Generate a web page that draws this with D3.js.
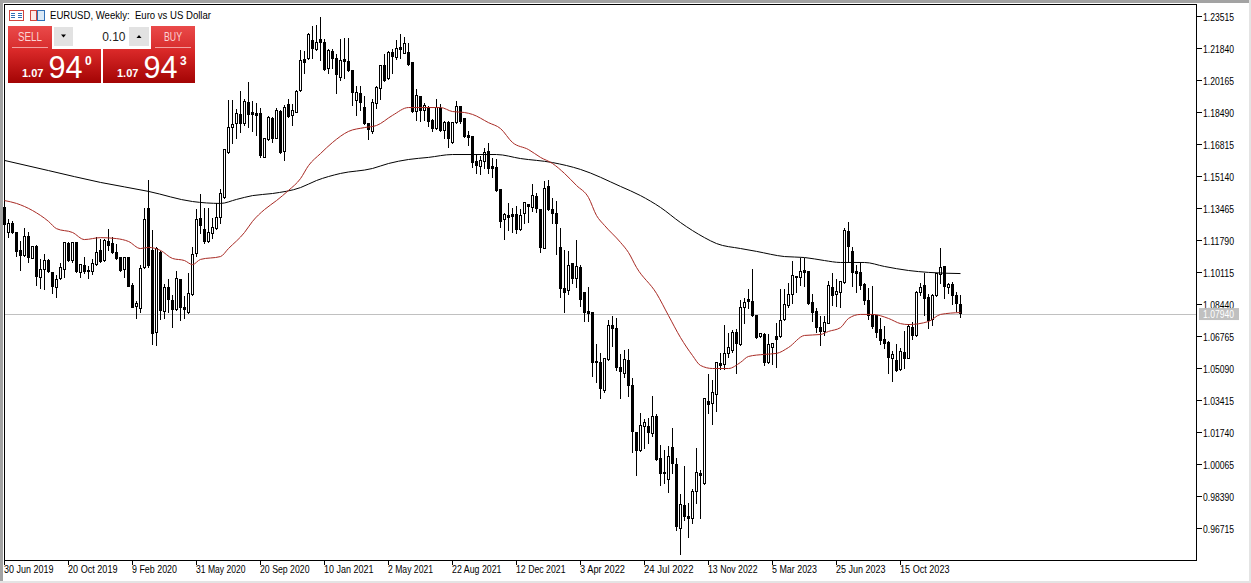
<!DOCTYPE html>
<html>
<head>
<meta charset="utf-8">
<script src="https://cdn.jsdelivr.net/npm/d3@7/dist/d3.min.js"></script>
<style>
html,body{margin:0;padding:0;background:#fff;overflow:hidden}
svg{display:block}
text{font-family:"Liberation Sans",Arial,sans-serif}
</style>
</head>
<body>
<script>
const title = "EURUSD, Weekly:  Euro vs US Dollar";
const xTickLabels = ["30 Jun 2019","20 Oct 2019","9 Feb 2020","31 May 2020","20 Sep 2020","10 Jan 2021","2 May 2021","22 Aug 2021","12 Dec 2021","3 Apr 2022","24 Jul 2022","13 Nov 2022","5 Mar 2023","25 Jun 2023","15 Oct 2023"];
const yTicks = [1.23515,1.21840,1.20165,1.18490,1.16815,1.15140,1.13465,1.11790,1.10115,1.08440,1.06765,1.05090,1.03415,1.01740,1.00065,0.98390,0.96715];
const lastPrice = 1.07940;

const opens = [
1.1352,1.1221,1.1268,1.1221,1.1127,1.1101,1.1200,1.1085,1.1148,1.0985,
1.1027,1.1074,1.1012,1.0933,1.0980,1.1027,1.1163,1.1074,1.1169,1.1012,
1.1048,1.1022,1.1017,1.1053,1.1127,1.1074,1.1174,1.1163,1.1116,1.1090,
1.1027,1.1090,1.0944,1.0834,1.0823,1.1038,1.1346,1.1127,1.0697,1.1116,
1.0808,1.0933,1.0865,1.0818,1.0975,1.0829,1.0802,1.0897,1.1111,1.1294,
1.1236,1.1174,1.1215,1.1241,1.1299,1.1404,1.1640,1.1770,1.1791,1.1839,
1.1791,1.1902,1.1849,1.1844,1.1844,1.1614,1.1707,1.1818,1.1713,1.1854,
1.1645,1.1891,1.1834,1.1849,1.1964,1.2126,1.2132,1.2226,1.2179,1.2231,
1.2216,1.2080,1.2168,1.2132,1.2032,1.2126,1.2116,1.2069,1.1912,1.1949,
1.1875,1.1791,1.1750,1.1896,1.1975,1.2095,1.2027,1.2163,1.2137,1.2189,
1.2158,1.2163,1.2110,1.1854,1.1933,1.1859,1.1875,1.1807,1.1765,1.1870,
1.1755,1.1796,1.1692,1.1796,1.1881,1.1818,1.1729,1.1723,1.1593,1.1566,
1.1593,1.1645,1.1566,1.1561,1.1446,1.1289,1.1310,1.1315,1.1315,1.1236,
1.1320,1.1368,1.1352,1.1409,1.1341,1.1137,1.1461,1.1341,1.1320,1.1143,
1.0928,1.0917,1.1058,1.0980,1.1038,1.0907,1.0808,1.0802,1.0546,1.0541,
1.0394,1.0557,1.0734,1.0718,1.0515,1.0483,1.0551,1.0420,1.0175,1.0080,
1.0206,1.0206,1.0169,1.0258,1.0038,0.9965,0.9928,1.0095,1.0007,0.9671,
0.9792,0.9734,0.9724,0.9865,0.9959,0.9907,1.0336,1.0326,1.0373,1.0536,
1.0530,1.0588,1.0603,1.0697,1.0635,1.0829,1.0870,1.0860,1.0786,1.0676,
1.0687,1.0541,1.0619,1.0676,1.0676,1.0766,1.0839,1.0897,1.0991,1.0985,
1.1022,1.1017,1.0854,1.0808,1.0723,1.0703,1.0744,1.0933,1.0897,1.0907,
1.0960,1.1226,1.1122,1.1017,1.1012,1.0949,1.0865,1.0792,1.0786,1.0713,
1.0661,1.0645,1.0562,1.0551,1.0504,1.0593,1.0562,1.0723,1.0682,1.0907,
1.0944,1.0881,1.0766,1.0891,1.1001,1.1043,1.0933,1.0949,1.0891,1.0844];

const closes = [
1.1263,1.1268,1.1221,1.1122,1.1101,1.1200,1.1090,1.1148,1.0991,1.1027,
1.1074,1.1017,1.0939,1.0975,1.1038,1.1169,1.1074,1.1169,1.1017,1.1053,
1.1017,1.1017,1.1058,1.1116,1.1069,1.1179,1.1153,1.1116,1.1085,1.1022,
1.1090,1.0939,1.0829,1.0849,1.1033,1.1289,1.1048,1.0692,1.1137,1.0813,
1.0933,1.0870,1.0818,1.0980,1.0829,1.0818,1.0902,1.1106,1.1289,1.1258,
1.1174,1.1221,1.1247,1.1299,1.1425,1.1655,1.1770,1.1786,1.1844,1.1791,
1.1907,1.1839,1.1839,1.1834,1.1624,1.1713,1.1823,1.1713,1.1859,1.1640,
1.1875,1.1828,1.1859,1.1959,1.2121,1.2110,1.2257,1.2184,1.2216,1.2216,
1.2074,1.2174,1.2132,1.2048,1.2121,1.2116,1.2069,1.1954,1.1954,1.1902,
1.1791,1.1760,1.1902,1.1980,1.2095,1.2017,1.2163,1.2142,1.2184,1.2179,
1.2210,1.2100,1.1854,1.1938,1.1859,1.1886,1.1802,1.1765,1.1875,1.1755,
1.1796,1.1713,1.1796,1.1881,1.1802,1.1723,1.1718,1.1587,1.1572,1.1598,
1.1640,1.1556,1.1556,1.1441,1.1279,1.1315,1.1299,1.1305,1.1236,1.1310,
1.1378,1.1357,1.1414,1.1346,1.1143,1.1451,1.1341,1.1320,1.1268,1.0928,
1.0907,1.1048,1.0980,1.1043,1.0870,1.0802,1.0797,1.0541,1.0541,1.0404,
1.0562,1.0734,1.0718,1.0515,1.0494,1.0557,1.0420,1.0180,1.0080,1.0211,
1.0226,1.0175,1.0258,1.0032,0.9959,0.9959,1.0049,1.0012,0.9682,0.9797,
0.9734,0.9724,0.9865,0.9965,0.9949,1.0352,1.0321,1.0384,1.0541,1.0525,
1.0588,1.0619,1.0697,1.0640,1.0829,1.0854,1.0860,1.0786,1.0671,1.0692,
1.0541,1.0635,1.0640,1.0661,1.0760,1.0844,1.0897,1.0996,1.0985,1.1017,
1.1012,1.0849,1.0802,1.0723,1.0703,1.0750,1.0944,1.0891,1.0912,1.0965,
1.1231,1.1148,1.1012,1.1006,1.0944,1.0865,1.0786,1.0729,1.0697,1.0656,
1.0640,1.0567,1.0583,1.0499,1.0598,1.0562,1.0729,1.0682,1.0907,1.0933,
1.0876,1.0760,1.0891,1.1006,1.1038,1.0939,1.0949,1.0891,1.0849,1.0797];

const highs = [
1.1362,1.1293,1.1284,1.1221,1.1179,1.1247,1.1226,1.1153,1.1158,1.1085,
1.1111,1.1085,1.1012,1.1001,1.1064,1.1174,1.1174,1.1174,1.1174,1.1058,
1.1095,1.1048,1.1085,1.1200,1.1189,1.1189,1.1241,1.1200,1.1163,1.1095,
1.1095,1.1095,1.0960,1.0865,1.1053,1.1352,1.1498,1.1236,1.1148,1.1127,
1.0954,1.0980,1.0897,1.1022,1.0980,1.0891,1.1012,1.1148,1.1346,1.1425,
1.1352,1.1352,1.1299,1.1378,1.1451,1.1655,1.1917,1.1917,1.1870,1.1964,
1.1922,1.2012,1.1912,1.1902,1.1875,1.1718,1.1834,1.1828,1.1875,1.1865,
1.1891,1.1922,1.1896,1.1969,1.2179,1.2174,1.2268,1.2304,1.2309,1.2351,
1.2236,1.2184,1.2184,1.2158,1.2236,1.2241,1.2241,1.2069,1.1990,1.1990,
1.1938,1.1796,1.1922,1.1990,1.2100,1.2158,1.2174,1.2184,1.2231,1.2262,
1.2247,1.2216,1.2110,1.1975,1.1938,1.1902,1.1886,1.1818,1.1922,1.1896,
1.1807,1.1807,1.1802,1.1912,1.1886,1.1818,1.1755,1.1729,1.1634,1.1624,
1.1666,1.1692,1.1614,1.1608,1.1451,1.1326,1.1378,1.1352,1.1362,1.1346,
1.1383,1.1373,1.1477,1.1430,1.1346,1.1493,1.1498,1.1404,1.1388,1.1247,
1.1132,1.1127,1.1064,1.1184,1.1053,1.0907,1.0939,1.0808,1.0640,1.0593,
1.0567,1.0766,1.0786,1.0776,1.0588,1.0609,1.0614,1.0462,1.0180,1.0279,
1.0247,1.0253,1.0368,1.0274,1.0111,1.0085,1.0106,1.0200,1.0043,0.9855,
1.0001,0.9808,0.9881,1.0095,0.9980,1.0357,1.0483,1.0451,1.0541,1.0593,
1.0739,1.0697,1.0713,1.0718,1.0870,1.0881,1.0928,1.1033,1.0792,1.0697,
1.0697,1.0692,1.0645,1.0750,1.0928,1.0928,1.0960,1.1074,1.0996,1.1090,
1.1090,1.1022,1.0902,1.0829,1.0786,1.0786,1.0970,1.1012,1.0980,1.0970,
1.1247,1.1279,1.1148,1.1053,1.1064,1.0960,1.0933,1.0944,1.0792,1.0776,
1.0734,1.0656,1.0603,1.0640,1.0619,1.0708,1.0744,1.0755,1.0917,1.0960,
1.1012,1.0902,1.0902,1.1012,1.1143,1.1048,1.0960,1.0965,1.0912,1.0897];

const lows = [
1.1194,1.1194,1.1215,1.1095,1.1022,1.1095,1.1064,1.1085,1.0944,1.0928,
1.0923,1.1012,1.0902,1.0881,1.0975,1.0985,1.1069,1.1064,1.1012,1.0985,
1.1006,1.0980,1.1001,1.1048,1.1064,1.1069,1.1127,1.1111,1.1080,1.1017,
1.0985,1.0939,1.0829,1.0771,1.0802,1.1033,1.1038,1.0635,1.0629,1.0766,
1.0771,1.0802,1.0723,1.0813,1.0760,1.0771,1.0797,1.0891,1.1095,1.1215,
1.1163,1.1169,1.1189,1.1236,1.1268,1.1399,1.1634,1.1686,1.1713,1.1744,
1.1781,1.1770,1.1750,1.1729,1.1614,1.1614,1.1702,1.1692,1.1713,1.1634,
1.1598,1.1823,1.1781,1.1849,1.1959,1.2053,1.2126,1.2132,1.2174,1.2121,
1.2069,1.2053,1.2080,1.1949,1.2017,1.2027,1.2064,1.1886,1.1834,1.1859,
1.1786,1.1707,1.1739,1.1870,1.1917,1.2012,1.2022,1.2053,1.2126,1.2132,
1.2158,1.2095,1.1849,1.1807,1.1802,1.1807,1.1776,1.1750,1.1760,1.1750,
1.1713,1.1666,1.1686,1.1791,1.1791,1.1718,1.1676,1.1561,1.1530,1.1525,
1.1556,1.1530,1.1509,1.1436,1.1247,1.1184,1.1231,1.1221,1.1215,1.1231,
1.1268,1.1273,1.1331,1.1326,1.1116,1.1137,1.1336,1.1268,1.1106,1.0881,
1.0802,1.0897,1.0954,1.0933,1.0834,1.0755,1.0755,1.0467,1.0436,1.0352,
1.0384,1.0551,1.0624,1.0499,1.0352,1.0462,1.0363,1.0070,0.9949,1.0075,
1.0090,1.0117,1.0154,1.0027,0.9896,0.9907,0.9860,0.9959,0.9661,0.9535,
0.9713,0.9624,0.9697,0.9802,0.9724,0.9902,1.0274,1.0216,1.0284,1.0504,
1.0504,1.0567,1.0593,1.0483,1.0629,1.0744,1.0823,1.0781,1.0666,1.0671,
1.0525,1.0536,1.0530,1.0515,1.0671,1.0760,1.0829,1.0849,1.0907,1.0944,
1.0939,1.0844,1.0755,1.0697,1.0629,1.0682,1.0744,1.0839,1.0834,1.0829,
1.0954,1.1064,1.0939,1.0907,1.0923,1.0844,1.0766,1.0718,1.0671,1.0635,
1.0614,1.0483,1.0441,1.0494,1.0499,1.0509,1.0562,1.0661,1.0676,1.0891,
1.0786,1.0718,1.0734,1.0886,1.0954,1.0876,1.0902,1.0844,1.0808,1.0776];

const redBars = [0,3,7,11,13,17,20,24,28,31,34,36,39,42,45,47,49,54,56,60,62,65,68,71,74,76,79,82,86,90,93,97,101,109,112,115,117,121,124,127,131,134,137,140,143,146,148,150,154,156,158,163,166,169,172,174,177,181,184,186,190,193,196,200,204,206,209,211,214,217,221,224,226,231,234,239];
const redValues = [1.1388,1.1373,1.1336,1.1279,1.1241,1.1221,1.1184,1.1194,1.1189,1.1174,1.1137,1.1143,1.1127,1.1085,1.1074,1.1053,1.1080,1.1095,1.1137,1.1221,1.1279,1.1341,1.1388,1.1441,1.1503,1.1571,1.1634,1.1692,1.1750,1.1770,1.1781,1.1834,1.1875,1.1875,1.1854,1.1849,1.1839,1.1796,1.1765,1.1692,1.1655,1.1614,1.1582,1.1530,1.1467,1.1404,1.1310,1.1258,1.1169,1.1116,1.1038,1.0902,1.0786,1.0671,1.0577,1.0525,1.0509,1.0509,1.0541,1.0572,1.0583,1.0588,1.0619,1.0682,1.0687,1.0703,1.0723,1.0771,1.0792,1.0792,1.0771,1.0744,1.0739,1.0755,1.0792,1.0802];
const blackBars = [0,11,24,36,47,54,58,62,67,74,78,84,92,96,101,106,112,123,129,137,144,154,159,164,169,172,175,178,184,188,195,200,205,209,215,220,226,231,239];
const blackValues = [1.1598,1.1545,1.1483,1.1436,1.1383,1.1373,1.1394,1.1414,1.1425,1.1456,1.1493,1.1530,1.1556,1.1582,1.1603,1.1614,1.1629,1.1629,1.1608,1.1587,1.1551,1.1462,1.1414,1.1352,1.1273,1.1231,1.1194,1.1163,1.1137,1.1122,1.1095,1.1090,1.1074,1.1064,1.1064,1.1043,1.1022,1.1012,1.1006];

const W = 1251, H = 583;
const L = 4.5, R = 1196.5, T = 4.5, B = 560.5;
const barStep = 4, labelEvery = 16;

const x = d3.scaleLinear().domain([0, 1]).range([L, L + barStep]);
const y = d3.scaleLinear().domain([0.96715, 1.23515]).range([528.5, 16.5]);

const svg = d3.select("body").append("svg").attr("width", W).attr("height", H);

// window chrome
svg.append("rect").attr("width", W).attr("height", H).attr("fill", "#fff");
svg.append("rect").attr("width", W).attr("height", 3).attr("fill", "#a3a3a3");
svg.append("rect").attr("y", 0).attr("width", 3).attr("height", H).attr("fill", "#a3a3a3");
svg.append("rect").attr("x", 1249).attr("width", 2).attr("height", H).attr("fill", "#e4e4e4");
svg.append("rect").attr("y", 581).attr("width", W).attr("height", 2).attr("fill", "#e4e4e4");

const bodyW = 2;
const crisp = svg.append("g").attr("shape-rendering", "crispEdges");

// last price line
crisp.append("line").attr("x1", L).attr("x2", R)
  .attr("y1", Math.round(y(lastPrice)) + .5).attr("y2", Math.round(y(lastPrice)) + .5)
  .attr("stroke", "#c0c0c0");

const bars = d3.range(opens.length);
const snap = v => Math.round(v - .5) + .5;

crisp.append("g").selectAll("line").data(bars).join("line")
  .attr("x1", i => x(i)).attr("x2", i => x(i))
  .attr("y1", i => snap(y(highs[i]))).attr("y2", i => snap(y(lows[i])))
  .attr("stroke", "#000");

crisp.append("g").selectAll("rect").data(bars).join("rect")
  .attr("x", i => x(i) - bodyW / 2).attr("width", bodyW)
  .attr("y", i => snap(y(Math.max(opens[i], closes[i]))))
  .attr("height", i => Math.max(1, snap(y(Math.min(opens[i], closes[i]))) - snap(y(Math.max(opens[i], closes[i])))))
  .attr("fill", i => closes[i] >= opens[i] ? "#fff" : "#000")
  .attr("stroke", "#000");

// moving averages
const maLine = d3.line().x(d => x(d[0])).y(d => y(d[1])).curve(d3.curveMonotoneX);
svg.append("path").attr("d", maLine(d3.zip(blackBars, blackValues)))
  .attr("fill", "none").attr("stroke", "#000").attr("stroke-width", 1);
svg.append("path").attr("d", maLine(d3.zip(redBars, redValues)))
  .attr("fill", "none").attr("stroke", "#a82a24").attr("stroke-width", 1);

// frame
crisp.append("rect").attr("x", L).attr("y", T).attr("width", R - L).attr("height", B - T)
  .attr("fill", "none").attr("stroke", "#000");

// y axis
const yG = svg.append("g");
yG.selectAll("line").data(yTicks).join("line")
  .attr("shape-rendering", "crispEdges")
  .attr("x1", R).attr("x2", R + 5).attr("y1", d => y(d)).attr("y2", d => y(d)).attr("stroke", "#000");
yG.selectAll("text").data(yTicks).join("text")
  .attr("x", 1203).attr("y", d => y(d) + 4)
  .attr("font-size", 11).attr("fill", "#000")
  .attr("textLength", 31).attr("lengthAdjust", "spacingAndGlyphs")
  .text(d => d.toFixed(5));

// current price tag
svg.append("rect").attr("x", 1199).attr("y", y(lastPrice) - 6).attr("width", 40).attr("height", 12).attr("fill", "#c0c0c0");
svg.append("text").attr("x", 1203).attr("y", y(lastPrice) + 4)
  .attr("font-size", 11).attr("fill", "#fff")
  .attr("textLength", 31).attr("lengthAdjust", "spacingAndGlyphs").text(lastPrice.toFixed(5));

// x axis
const xG = svg.append("g");
xG.selectAll("line").data(xTickLabels).join("line")
  .attr("shape-rendering", "crispEdges")
  .attr("x1", (d, i) => x(i * labelEvery)).attr("x2", (d, i) => x(i * labelEvery))
  .attr("y1", B).attr("y2", B + 4).attr("stroke", "#000");
xG.selectAll("text").data(xTickLabels).join("text")
  .attr("x", (d, i) => x(i * labelEvery) - .5).attr("y", 573)
  .attr("font-size", 10.5).attr("fill", "#000")
  .attr("textLength", d => d.length * 4.5)
  .attr("lengthAdjust", "spacingAndGlyphs")
  .text(d => d);

// title and icons
const icons = svg.append("g").attr("shape-rendering", "crispEdges");
icons.append("rect").attr("x", 9.5).attr("y", 10.5).attr("width", 14).attr("height", 10).attr("fill", "#fff").attr("stroke", "#d0453f").attr("stroke-width", 1.5);
[13, 15, 17].forEach(v => {
  icons.append("line").attr("x1", 11).attr("x2", 15).attr("y1", v + .5).attr("y2", v + .5).attr("stroke", "#2f6fb5");
  icons.append("line").attr("x1", 18).attr("x2", 22).attr("y1", v + .5).attr("y2", v + .5).attr("stroke", "#2f6fb5");
});
icons.append("rect").attr("x", 30.5).attr("y", 10.5).attr("width", 6).attr("height", 10).attr("fill", "#fde8e6").attr("stroke", "#d0453f").attr("stroke-width", 1.5);
icons.append("rect").attr("x", 37.5).attr("y", 10.5).attr("width", 7).attr("height", 10).attr("fill", "#d8e8f6").attr("stroke", "#2f6fb5").attr("stroke-width", 1.5);

svg.append("text").attr("x", 50).attr("y", 19).attr("font-size", 11).attr("fill", "#000")
  .attr("xml:space", "preserve").style("white-space", "pre")
  .attr("textLength", 161).attr("lengthAdjust", "spacingAndGlyphs").text(title);

// one-click trading panel
const defs = svg.append("defs");
const gradTop = defs.append("linearGradient").attr("id", "btn").attr("x2", 0).attr("y2", 1);
gradTop.append("stop").attr("offset", 0).attr("stop-color", "#ea4a4a");
gradTop.append("stop").attr("offset", 1).attr("stop-color", "#d72c2c");
const gradPrice = defs.append("linearGradient").attr("id", "box").attr("x2", 0).attr("y2", 1);
gradPrice.append("stop").attr("offset", 0).attr("stop-color", "#dc2a2a");
gradPrice.append("stop").attr("offset", 1).attr("stop-color", "#a30404");

const panel = svg.append("g");
[[8, 44, "SELL"], [151, 44, "BUY"]].forEach(([px, pw, label]) => {
  panel.append("rect").attr("x", px).attr("y", 26).attr("width", pw).attr("height", 24).attr("fill", "url(#btn)");
  panel.append("line").attr("x1", px + 4).attr("x2", px + pw - 4).attr("y1", 47.5).attr("y2", 47.5).attr("stroke", "#f3a0a0");
  panel.append("text").attr("x", px + pw / 2).attr("y", 41).attr("text-anchor", "middle")
    .attr("font-size", 12.5).attr("fill", "#fbd5d5").attr("textLength", label.length * 6).attr("lengthAdjust", "spacingAndGlyphs").text(label);
});
[[8, 93, "0"], [103, 92, "3"]].forEach(([px, pw, sup]) => {
  panel.append("rect").attr("x", px).attr("y", 49).attr("width", pw).attr("height", 34).attr("fill", "url(#box)");
  panel.append("text").attr("x", px + 14).attr("y", 77).attr("font-size", 11).attr("font-weight", "bold").attr("fill", "#fff").text("1.07");
  panel.append("text").attr("x", px + 40.5).attr("y", 78).attr("font-size", 32).attr("fill", "#fff")
    .attr("textLength", 34).attr("lengthAdjust", "spacingAndGlyphs").text("94");
  panel.append("text").attr("x", px + 77).attr("y", 65).attr("font-size", 12).attr("font-weight", "bold").attr("fill", "#fff").text(sup);
});
panel.append("rect").attr("x", 54).attr("y", 27).attr("width", 19).attr("height", 19).attr("fill", "#e2e2e2");
panel.append("rect").attr("x", 129).attr("y", 27).attr("width", 20).attr("height", 19).attr("fill", "#e2e2e2");
panel.append("path").attr("d", "M61 34.500h5l-2.500 3z").attr("fill", "#000");
panel.append("path").attr("d", "M136.500 38h5l-2.500 -3z").attr("fill", "#000");
panel.append("text").attr("x", 125.5).attr("y", 41).attr("text-anchor", "end").attr("font-size", 12).attr("fill", "#222").text("0.10");
</script>
</body>
</html>
